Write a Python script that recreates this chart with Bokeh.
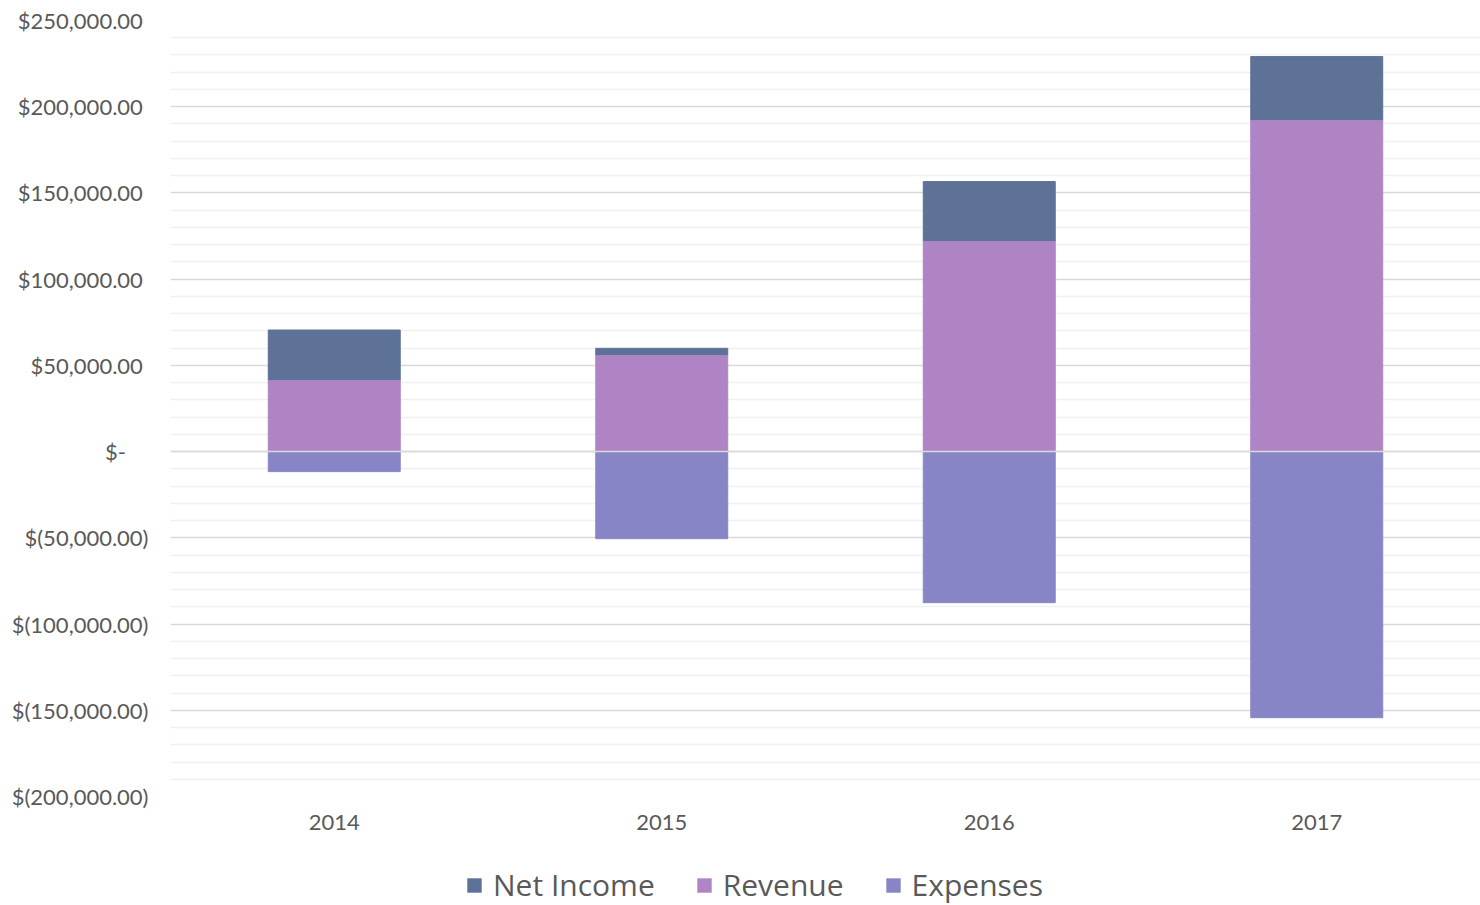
from bokeh.plotting import figure
from bokeh.layouts import column
from bokeh.models import ColumnDataSource, FixedTicker, Legend, LegendItem, Span, Range1d
from bokeh.embed import file_html
from bokeh.resources import INLINE

years = ["2014", "2015", "2016", "2017"]
revenue = [41200, 55700, 121800, 192000]
expenses = [-11600, -50500, -87600, -154300]
net_income = [29300, 4200, 34800, 37100]
series_names = ["Net Income", "Revenue", "Expenses"]

tick_values = [-200000, -150000, -100000, -50000, 0, 50000, 100000, 150000, 200000, 250000]
tick_labels = ["$(200,000.00)", "$(150,000.00)", "$(100,000.00)", "$(50,000.00)", "$-\u00a0\u00a0\u00a0\u00a0",
               "$50,000.00\u00a0", "$100,000.00\u00a0", "$150,000.00\u00a0", "$200,000.00\u00a0", "$250,000.00\u00a0"]

net_top = [r + n for r, n in zip(revenue, net_income)]
zeros = [0] * len(years)

src = ColumnDataSource(dict(x=years, rev=revenue, exp=expenses, net_top=net_top, zero=zeros))

p = figure(x_range=years, width=1480, height=850, output_backend="svg", toolbar_location=None,
           min_border_left=170, min_border_right=0, min_border_top=20, min_border_bottom=54)
p.y_range = Range1d(-200000, 250000)
p.outline_line_color = None

c_net = "#5e7298"
c_rev = "#ae84c5"
c_exp = "#8885c6"
colors = [c_net, c_rev, c_exp]
bw = 0.403
p.vbar(x="x", bottom="rev", top="net_top", width=bw, color=c_net, source=src)
p.vbar(x="x", bottom="zero", top="rev", width=bw, color=c_rev, source=src)
p.vbar(x="x", bottom="exp", top="zero", width=bw, color=c_exp, source=src)

p.add_layout(Span(location=0, dimension="width", line_color="#d9d9d9", line_width=1.5, level="overlay"))

minor = [v for v in range(-200000, 250001, 10000) if v % 50000 != 0]
p.yaxis.ticker = FixedTicker(ticks=tick_values, minor_ticks=minor)
p.yaxis.major_label_overrides = {v: l for v, l in zip(tick_values, tick_labels)}
p.ygrid.grid_line_color = "#d9d9d9"
p.ygrid.grid_line_width = 1.5
p.ygrid.minor_grid_line_color = "#f0f0f0"
p.ygrid.minor_grid_line_width = 1.5
p.xgrid.grid_line_color = None

for ax in [p.yaxis[0], p.xaxis[0]]:
    ax.axis_line_color = None
    ax.major_tick_line_color = None
    ax.minor_tick_line_color = None
    ax.major_label_text_font = "Lato"
    ax.major_label_text_font_size = "22px"
    ax.major_label_text_color = "#595959"
p.yaxis.major_label_standoff = 16
p.xaxis.major_label_standoff = 12

# legend strip (zero-height proxy bars carry the legend swatches)
lg = figure(width=1480, height=55, output_backend="svg", toolbar_location=None,
            x_range=Range1d(0, 1), y_range=Range1d(0, 1),
            x_axis_location=None, y_axis_location=None,
            min_border_left=0, min_border_right=0, min_border_top=0, min_border_bottom=0)
lg.outline_line_color = None
lg.xgrid.grid_line_color = None
lg.ygrid.grid_line_color = None
proxy = ColumnDataSource(dict(x=zeros, b=zeros, t=zeros))
items = []
for name, col in zip(series_names, colors):
    r = lg.vbar(x="x", bottom="b", top="t", width=0, fill_color=col, line_alpha=0, source=proxy)
    items.append(LegendItem(label=name, renderers=[r]))
legend = Legend(items=items, orientation="horizontal", location=(295, 0),
                label_text_font="Open Sans", label_text_font_size="30px", label_text_color="#595959",
                glyph_width=18, glyph_height=18, spacing=40, label_standoff=10,
                border_line_color=None, background_fill_alpha=0, padding=0, margin=0)
lg.add_layout(legend)

layout = column(p, lg, spacing=0)
open("out.html", "w").write(file_html(layout, INLINE))
